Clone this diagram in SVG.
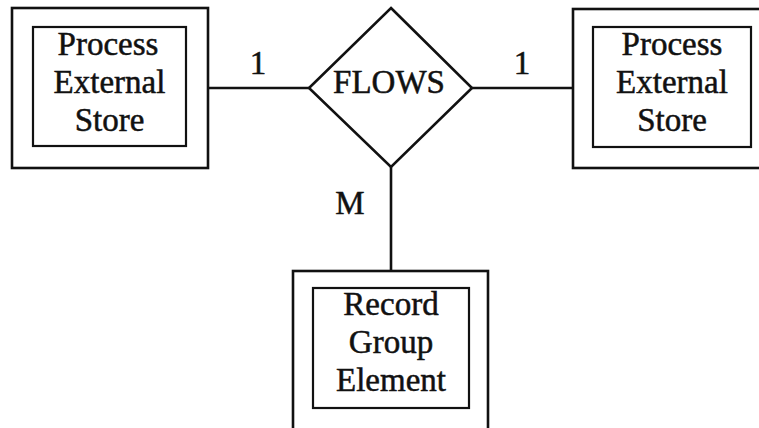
<svg xmlns="http://www.w3.org/2000/svg" width="759" height="428" viewBox="0 0 759 428">
  <style>
    .frame { fill: none; stroke: #111; stroke-width: 2.6; }
    .inner { fill: none; stroke: #111; stroke-width: 2.2; }
    .link { fill: none; stroke: #111; stroke-width: 2.6; }
    .lbl { font-family: "Liberation Serif", "Times New Roman", serif; font-size: 33px; fill: #111; stroke: #111; stroke-width: 0.5; text-anchor: middle; }
  </style>
  <rect width="759" height="428" fill="#fff"/>

  <!-- connectors between entities and the relationship -->
  <g id="connectors">
    <line class="link" x1="208" y1="88" x2="309" y2="88"/>
    <line class="link" x1="472" y1="88" x2="573" y2="88"/>
    <line class="link" x1="391" y1="167" x2="391" y2="271"/>
    <text class="lbl" x="258" y="74">1</text>
    <text class="lbl" x="522" y="74">1</text>
    <text class="lbl" x="350" y="214">M</text>
  </g>

  <!-- left entity -->
  <g id="store-left">
    <rect class="frame" x="12" y="8" width="196" height="160"/>
    <rect class="inner" x="33" y="27" width="153" height="119"/>
    <text class="lbl" x="108" y="55">Process</text>
    <text class="lbl" x="109.5" y="93">External</text>
    <text class="lbl" x="109.5" y="131">Store</text>
  </g>

  <!-- relationship -->
  <g id="flows">
    <polygon class="frame" points="391,8 472,88 391,167 309,88"/>
    <text class="lbl" x="389" y="93">FLOWS</text>
  </g>

  <!-- right entity (frame runs past the right edge) -->
  <g id="store-right">
    <rect class="frame" x="573" y="9" width="200" height="159"/>
    <rect class="inner" x="593" y="27" width="158" height="120"/>
    <text class="lbl" x="672" y="55">Process</text>
    <text class="lbl" x="672" y="93">External</text>
    <text class="lbl" x="672" y="131">Store</text>
  </g>

  <!-- lower entity (frame runs past the bottom edge) -->
  <g id="record-group">
    <rect class="frame" x="293" y="271" width="195" height="170"/>
    <rect class="inner" x="313" y="288" width="156" height="120"/>
    <text class="lbl" x="391" y="315">Record</text>
    <text class="lbl" x="391" y="353">Group</text>
    <text class="lbl" x="391" y="391">Element</text>
  </g>
</svg>
